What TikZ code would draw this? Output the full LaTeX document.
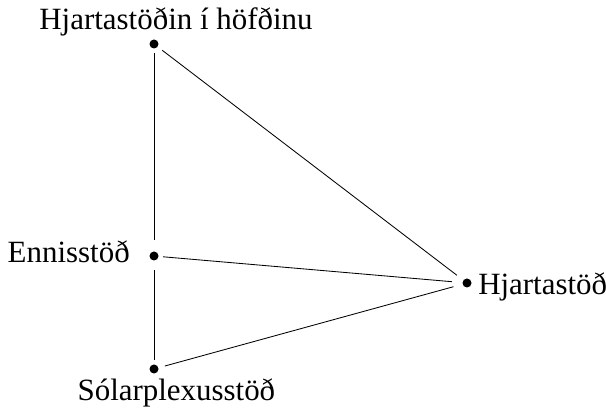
\documentclass[tikz,border=0pt]{standalone}
\usepackage{fontspec}
\setmainfont{Liberation Serif}
\begin{document}
\begin{tikzpicture}[
	dot/.style={circle,fill,inner sep=0,minimum size=0.225cm},
	lbl/.style={inner sep=0,font=\fontsize{22}{26}\selectfont},
	link/.style={line width=0.6pt}]
		\useasboundingbox (0,0) rectangle (15.15,-10.2);
		\node[dot] (head) at(3.85,-1.1) {};
		\node[dot] (brow) at(3.85,-6.4) {};
		\node[dot] (sun) at(3.85,-9.225) {};
		\node[dot] (heart) at(11.675,-7.075) {};
		
		\node[lbl,anchor=base] (headlbl) at(4.4,-0.75) {Hjartastöðin í höfðinu};
		\node[lbl,anchor=base east] (browlbl) at(3.25,-6.575) {Ennisstöð};
		\node[lbl,anchor=base] (sunlbl) at(4.41,-10.025) {Sólarplexusstöð};
		\node[lbl,anchor=base west] (heartlbl) at(11.95,-7.375) {Hjartastöð};
		
		\draw[link,shorten <=0.11cm,shorten >=0.29cm] (head) -- (brow);
		\draw[link,shorten <=0.24cm,shorten >=0.11cm] (brow) -- (sun);
		\draw[link,shorten <=0.14cm,shorten >=0.2cm] (head) -- (heart);
		\draw[link,shorten <=0.11cm,shorten >=0.26cm] (brow) -- (heart);
		\draw[link,shorten <=0.16cm,shorten >=0.23cm] (sun) -- (heart);
		\end{tikzpicture}
\end{document}
